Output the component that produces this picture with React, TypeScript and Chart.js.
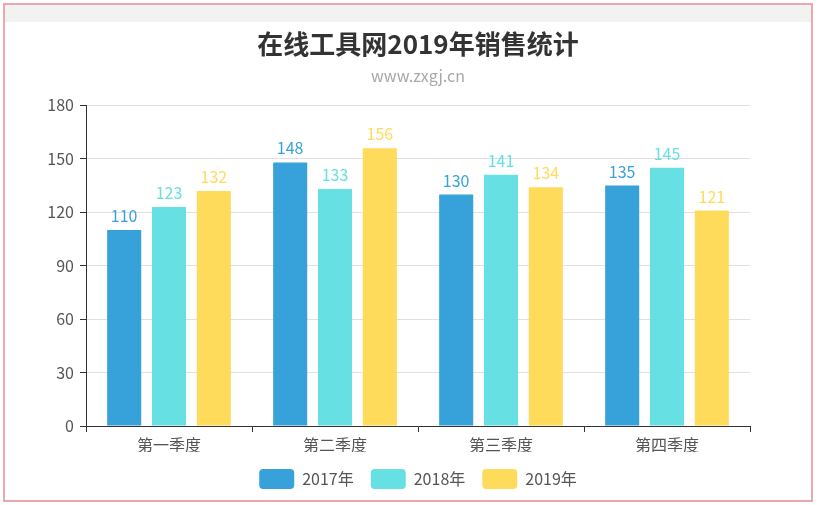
import React, { useEffect, useRef } from "react";
import { Chart, registerables } from "chart.js";

Chart.register(...registerables);

const categories = ["第一季度", "第二季度", "第三季度", "第四季度"];
const seriesNames = ["2017年", "2018年", "2019年"];
const sales2017 = [110, 148, 130, 135];
const sales2018 = [123, 133, 141, 145];
const sales2019 = [132, 156, 134, 121];
const colors = ["#37a2da", "#67e0e3", "#ffdb5c"];
const titleText = "在线工具网2019年销售统计";
const subtitleText = "www.zxgj.cn";

const FONT = "'Noto Sans CJK SC', 'Noto Sans', sans-serif";

const valueLabels = {
  id: "valueLabels",
  afterDatasetsDraw(chart: any) {
    const ctx = chart.ctx;
    ctx.save();
    ctx.font = `16px ${FONT}`;
    ctx.textAlign = "center";
    ctx.textBaseline = "bottom";
    chart.data.datasets.forEach((ds: any, i: number) => {
      const meta = chart.getDatasetMeta(i);
      ctx.fillStyle = ds.backgroundColor;
      meta.data.forEach((el: any, j: number) => {
        ctx.fillText(String(ds.data[j]), el.x, el.y - 6);
      });
    });
    ctx.restore();
  },
};

export default function App() {
  const ref = useRef<HTMLCanvasElement | null>(null);
  useEffect(() => {
    if (!ref.current) return;
    const data = [sales2017, sales2018, sales2019];
    const chart = new Chart(ref.current, {
      type: "bar",
      data: {
        labels: categories,
        datasets: seriesNames.map((name, i) => ({
          label: name,
          data: data[i],
          backgroundColor: colors[i],
          borderWidth: 0,
          categoryPercentage: 0.81,
          barPercentage: 0.76,
          yAxisID: "y",
        })),
      },
      options: {
        animation: false,
        responsive: false,
        maintainAspectRatio: false,
        layout: { padding: { left: 16, right: 0, top: 0, bottom: 6 } },
        plugins: {
          title: {
            display: true,
            text: titleText,
            color: "#333",
            font: { family: FONT, size: 26, weight: "bold" },
            padding: { top: 29, bottom: 0 },
          },
          subtitle: {
            display: true,
            text: subtitleText,
            color: "#a8a8a8",
            font: { family: FONT, size: 16 },
            padding: { top: 6, bottom: 20 },
          },
          legend: {
            position: "bottom",
            labels: {
              boxWidth: 35,
              boxHeight: 20,
              useBorderRadius: true,
              borderRadius: 4,
              color: "#555",
              padding: 17,
              font: { family: FONT, size: 16 },
            },
          },
          tooltip: { enabled: false },
        },
        scales: {
          x: {
            afterFit: (scale: any) => {
              scale.height = 26;
            },
            grid: {
              offset: true,
              drawOnChartArea: false,
              tickLength: 6,
              tickColor: "#333",
            },
            border: { color: "#333", width: 1 },
            ticks: { color: "#555", font: { family: FONT, size: 16 }, padding: 3 },
          },
          y: {
            min: 0,
            max: 180,
            afterFit: (scale: any) => {
              scale.width = 70;
            },
            grid: { color: "#e0e0e0", tickLength: 6, tickColor: "#333" },
            border: { color: "#333", width: 1 },
            ticks: {
              stepSize: 30,
              color: "#555",
              font: { family: FONT, size: 16 },
              padding: 6,
            },
          },
          yR: {
            position: "right",
            display: true,
            afterFit: (scale: any) => {
              scale.width = 70;
            },
            grid: { display: false },
            border: { display: false },
            ticks: { display: false },
          },
        },
      },
      plugins: [valueLabels],
    });
    return () => chart.destroy();
  }, []);

  return (
    <div
      style={{
        position: "fixed",
        left: 0,
        top: 0,
        width: 820,
        height: 505,
        background: "#fff",
        overflow: "hidden",
      }}
    >
      <div
        style={{
          position: "absolute",
          left: 5,
          top: 5,
          width: 806,
          height: 17,
          background: "#f2f2f2",
        }}
      />
      <canvas
        ref={ref}
        width={820}
        height={505}
        style={{ position: "absolute", left: 0, top: 0, width: 820, height: 505 }}
      />
      <div
        style={{
          position: "absolute",
          left: 3,
          top: 3,
          width: 806,
          height: 495,
          border: "2px solid #e9a8ad",
          pointerEvents: "none",
        }}
      />
    </div>
  );
}
